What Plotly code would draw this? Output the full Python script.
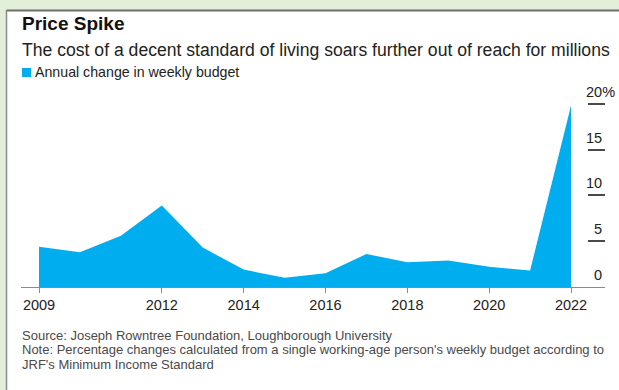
import plotly.graph_objects as go

# Annual change in a single working-age person's weekly budget (JRF Minimum Income Standard)
years = [2009, 2010, 2011, 2012, 2013, 2014, 2015, 2016, 2017, 2018, 2019, 2020, 2021, 2022]
annual_change = [4.4, 3.8, 5.6, 8.9, 4.3, 1.9, 1.0, 1.5, 3.6, 2.7, 2.9, 2.2, 1.8, 19.8]

x_tick_vals = [2009, 2012, 2014, 2016, 2018, 2020, 2022]
y_tick_vals = [0, 5, 10, 15, 20]
# figure spaces keep single digits right-aligned under the two-digit labels
y_tick_text = ["\u20070", "\u20075", "10", "15", "20%"]

series_name = "Annual change in weekly budget"
title_text = "Price Spike"
subtitle_text = "The cost of a decent standard of living soars further out of reach for millions"
footnote_lines = [
    "Source: Joseph Rowntree Foundation, Loughborough University",
    "Note: Percentage changes calculated from a single working-age person's weekly budget according to",
    "JRF's Minimum Income Standard",
]

W, H = 619, 390
ML, MR, MT, MB = 21, 14, 85, 103
PW, PH = W - ML - MR, H - MT - MB

FONT = "Liberation Sans, Arial, sans-serif"
BLUE = "#00adef"
TEXT = "#222222"
GREY_TEXT = "#4a4a4a"
AXIS = "#8a8a8a"
FRAME = "#6e6e6e"


def px_x(px):
    return (px - ML) / PW


def px_y(py):
    return (H - MB - py) / PH


fig = go.Figure()

fig.add_trace(go.Scatter(
    x=years, y=annual_change,
    mode="lines", line=dict(width=0, color=BLUE),
    fill="tozeroy", fillcolor=BLUE,
    showlegend=False, hoverinfo="x+y",
))

shapes = [
    # white card, framed on the top and left edges
    dict(type="rect", xref="paper", yref="paper", layer="below",
         x0=px_x(6.5), x1=px_x(W), y0=px_y(H), y1=px_y(10.5),
         line=dict(width=0), fillcolor="white"),
    dict(type="line", xref="paper", yref="paper", layer="below",
         x0=px_x(6.5), x1=px_x(W), y0=px_y(10.5), y1=px_y(10.5),
         line=dict(color=FRAME, width=2)),
    dict(type="line", xref="paper", yref="paper", layer="below",
         x0=px_x(6.5), x1=px_x(6.5), y0=px_y(10), y1=px_y(H),
         line=dict(color="#8c8c8c", width=1.5)),
    # legend swatch
    dict(type="rect", xref="paper", yref="paper",
         x0=px_x(22), x1=px_x(31), y0=px_y(77), y1=px_y(68),
         line=dict(width=0), fillcolor=BLUE),
]

annotations = [
    dict(text="<b>" + title_text + "</b>", xref="paper", yref="paper",
         x=px_x(20), y=px_y(11), xanchor="left", yanchor="top",
         showarrow=False, font=dict(size=19, color="#111111")),
    dict(text=subtitle_text, xref="paper", yref="paper",
         x=px_x(20), y=px_y(38), xanchor="left", yanchor="top",
         showarrow=False, font=dict(size=17.6, color=TEXT)),
    dict(text=series_name, xref="paper", yref="paper",
         x=px_x(33), y=px_y(72.5), xanchor="left", yanchor="middle",
         showarrow=False, font=dict(size=14.2, color=TEXT)),
]
for i, line in enumerate(footnote_lines):
    annotations.append(dict(
        text=line, xref="paper", yref="paper",
        x=px_x(20), y=px_y(335 + 14.5 * i), xanchor="left", yanchor="middle",
        showarrow=False, font=dict(size=13, color=GREY_TEXT)))

fig.update_layout(
    width=W, height=H,
    margin=dict(l=ML, r=MR, t=MT, b=MB),
    paper_bgcolor="#e2efd9",
    plot_bgcolor="rgba(0,0,0,0)",
    font=dict(family=FONT, color=TEXT),
    showlegend=False,
    xaxis=dict(
        range=[2008.56, 2022.83],
        tickvals=x_tick_vals,
        showline=True, linecolor=AXIS, linewidth=1,
        ticks="outside", ticklen=5, tickcolor=AXIS, tickwidth=1,
        showgrid=False, zeroline=False, automargin=False,
        tickfont=dict(size=14.5, color=TEXT),
    ),
    yaxis=dict(
        range=[0, PH / 9.165],
        side="right",
        tickvals=y_tick_vals, ticktext=y_tick_text,
        ticks="inside", ticklen=17, tickcolor="#4a4a4a", tickwidth=1.5,
        ticklabelposition="outside", ticklabelshift=-12, ticklabelstandoff=-20,
        showline=False, showgrid=False, zeroline=False, automargin=False,
        tickfont=dict(size=14.5, color=TEXT),
    ),
    shapes=shapes,
    annotations=annotations,
)

fig.write_html("out.html")
